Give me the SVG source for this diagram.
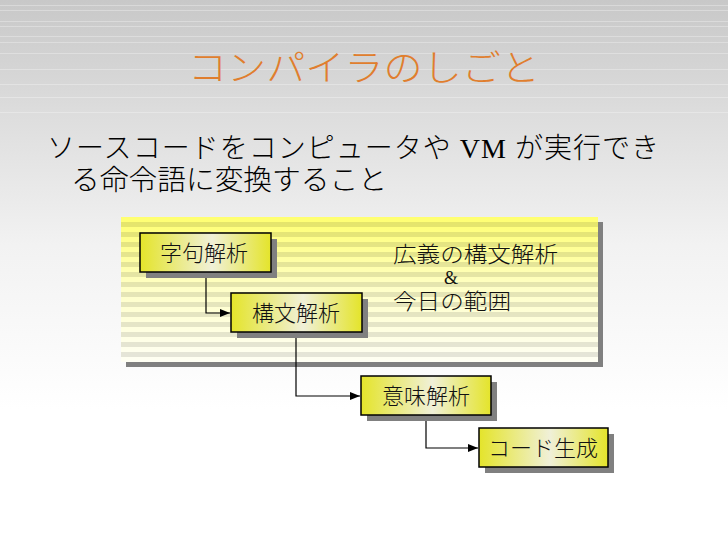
<svg xmlns="http://www.w3.org/2000/svg" width="728" height="546" viewBox="0 0 728 546">
<defs>
<linearGradient id="bg" x1="0" y1="0" x2="0" y2="1">
<stop offset="0" stop-color="#c8c8c8"/>
<stop offset="0.22" stop-color="#dedede"/>
<stop offset="0.45" stop-color="#f2f2f2"/>
<stop offset="0.75" stop-color="#ffffff"/>
<stop offset="1" stop-color="#ffffff"/>
</linearGradient>
<linearGradient id="panel" x1="0" y1="0" x2="0" y2="1">
<stop offset="0" stop-color="#ffff70"/>
<stop offset="0.5" stop-color="#ffffc8"/>
<stop offset="1" stop-color="#fffff4"/>
</linearGradient>
<pattern id="stripes" x="0" y="217" width="10" height="10" patternUnits="userSpaceOnUse">
<rect x="0" y="5" width="10" height="5" fill="#000" fill-opacity="0.1"/>
</pattern>
<linearGradient id="node" x1="0" y1="0" x2="1" y2="0">
<stop offset="0" stop-color="#e4e42a"/>
<stop offset="0.55" stop-color="#f0f0d8"/>
<stop offset="1" stop-color="#e4e42a"/>
</linearGradient>
<marker id="arr" viewBox="0 0 10 8" refX="10" refY="4" markerWidth="10" markerHeight="8" markerUnits="userSpaceOnUse" orient="auto">
<path d="M0,0 L10,4 L0,8 Z" fill="#000"/>
</marker>
<style>
.jp{font-family:"Noto Sans CJK JP",sans-serif;font-weight:300;}
.lat{font-family:"Liberation Serif",serif;font-weight:400;}
.title{font-size:36px;fill:#e07e2e;text-anchor:middle;}
.body{font-size:28px;fill:#000;}
.box{fill:url(#node);stroke:#000;stroke-width:1.5;}
.shadow{fill:#808080;}
.lbl{font-size:22px;fill:#111;text-anchor:middle;}
.note{font-size:22px;fill:#111;}
.conn{fill:none;stroke:#000;stroke-width:1.2;marker-end:url(#arr);}
.sl{stroke:#ffffff;stroke-width:1;}
</style>
</defs>
<rect x="0" y="0" width="728" height="546" fill="url(#bg)"/>
<g id="bglines" opacity="0.3">
<line class="sl" x1="0" y1="5.5" x2="728" y2="5.5"/>
<line class="sl" x1="0" y1="10.5" x2="728" y2="10.5"/>
<line class="sl" x1="0" y1="21.5" x2="728" y2="21.5"/>
<line class="sl" x1="0" y1="26.5" x2="728" y2="26.5"/>
<line class="sl" x1="0" y1="36.5" x2="728" y2="36.5"/>
<line class="sl" x1="0" y1="42.5" x2="728" y2="42.5"/>
<line class="sl" x1="0" y1="53.5" x2="728" y2="53.5"/>
<line class="sl" x1="0" y1="69.5" x2="728" y2="69.5"/>
<line class="sl" x1="0" y1="84.5" x2="728" y2="84.5"/>
<line class="sl" x1="0" y1="97.5" x2="728" y2="97.5"/>
<line class="sl" x1="0" y1="112.5" x2="728" y2="112.5"/>
</g>
<text class="jp title" x="364" y="81" textLength="352" lengthAdjust="spacingAndGlyphs">コンパイラのしごと</text>
<text class="jp body" x="47" y="158" textLength="612" lengthAdjust="spacing">ソースコードをコンピュータや<tspan class="lat"> VM </tspan>が実行でき</text>
<text class="jp body" x="71" y="190" textLength="316" lengthAdjust="spacingAndGlyphs">る命令語に変換すること</text>
<g id="panel-box">
<rect x="126" y="222" width="477" height="145" fill="#808080"/>
<rect x="121" y="217" width="477" height="145" fill="url(#panel)"/>
<rect x="121" y="217" width="477" height="145" fill="url(#stripes)"/>
</g>
<g id="note">
<text class="jp note" x="393" y="262" textLength="165" lengthAdjust="spacingAndGlyphs">広義の構文解析</text>
<text class="lat" x="451" y="284" font-size="18" text-anchor="middle" fill="#111">&amp;</text>
<text class="jp note" x="393" y="309" textLength="118" lengthAdjust="spacingAndGlyphs">今日の範囲</text>
</g>
<g id="connectors">
<polyline class="conn" points="206,272 206,313 230,313"/>
<polyline class="conn" points="296,332 296,396 360,396"/>
<polyline class="conn" points="426,415 426,448 478,448"/>
</g>
<g id="n1">
<rect class="shadow" x="146" y="239" width="131" height="39"/>
<rect class="box" x="140" y="233" width="131" height="39"/>
<text class="jp lbl" x="204" y="261">字句解析</text>
</g>
<g id="n2">
<rect class="shadow" x="237" y="299" width="131" height="39"/>
<rect class="box" x="231" y="293" width="131" height="39"/>
<text class="jp lbl" x="296" y="321">構文解析</text>
</g>
<g id="n3">
<rect class="shadow" x="367" y="382" width="130" height="39"/>
<rect class="box" x="361" y="376" width="130" height="39"/>
<text class="jp lbl" x="426" y="404">意味解析</text>
</g>
<g id="n4">
<rect class="shadow" x="485" y="434" width="129" height="39"/>
<rect class="box" x="479" y="428" width="129" height="39"/>
<text class="jp lbl" x="543" y="456">コード生成</text>
</g>
</svg>
